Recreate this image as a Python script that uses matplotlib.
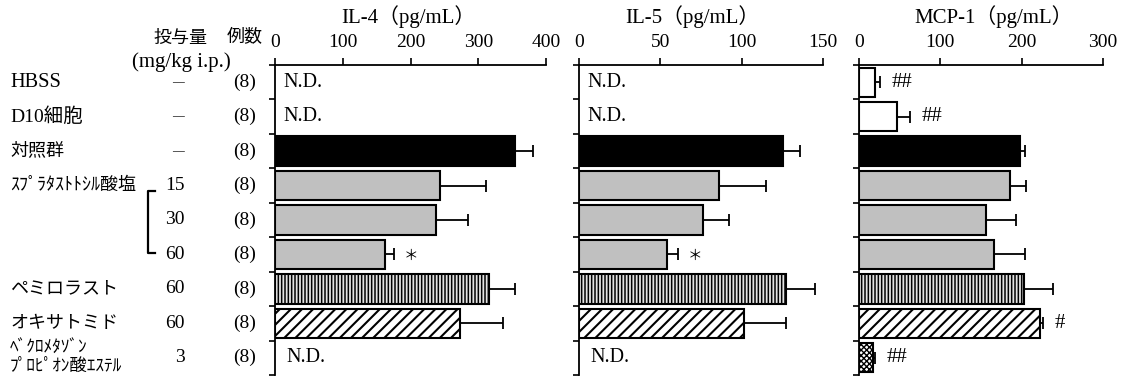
import numpy as np
import matplotlib
matplotlib.use("Agg")
import matplotlib.pyplot as plt
from matplotlib.transforms import blended_transform_factory

# ---- data -------------------------------------------------------------
groups = ["HBSS", "D10細胞", "対照群", "ｽﾌﾟﾗﾀｽﾄﾄｼﾙ酸塩", "", "",
          "ペミロラスト", "オキサトミド", "ﾍﾞｸﾛﾒﾀｿﾞﾝ\nﾌﾟﾛﾋﾟｵﾝ酸ｴｽﾃﾙ"]
doses = ["—", "—", "—", "15", "30", "60", "60", "60", "3"]
n_cases = ["(8)"] * 9

nan = np.nan
il4_mean = [nan, nan, 354, 243, 237, 163, 316, 273, nan]
il4_err = [nan, nan, 27, 69, 48, 13, 38, 64, nan]
il5_mean = [nan, nan, 125.4, 86, 76.3, 54.4, 127.5, 101.3, nan]
il5_err = [nan, nan, 10.3, 29, 16, 6.6, 17.5, 26.2, nan]
mcp1_mean = [19.3, 46.7, 197.6, 185.3, 156.6, 166.5, 202.9, 223, 17.2]
mcp1_err = [6.1, 16.3, 6.1, 20.5, 36, 38.1, 35.6, 3, 2.8]

il4_marks = {5: "＊"}
il5_marks = {5: "＊"}
mcp1_marks = {0: "##", 1: "##", 7: "#", 8: "##"}

# ---- styling ----------------------------------------------------------
plt.rcParams["font.family"] = ["Liberation Serif", "Noto Sans CJK JP"]

face = ["white", "white", "black", "#c0c0c0", "#c0c0c0", "#c0c0c0",
        "#e4e4e4", "white", "white"]
hatch = [None, None, None, None, None, None, "|||||", "///", "xxxxxx"]
hatch_lw = [1.0, 1.0, 1.0, 1.0, 1.0, 1.0, 1.1, 1.5, 1.0]
label_size = [14.7, 14, 13, 13, 13, 13, 13, 13, 12.5]

W, H = 1131, 378
fig = plt.figure(figsize=(W / 100, H / 100), dpi=100)


def fx(px):
    return px / W


def fy(py):
    return 1 - py / H


top_px, bot_px = 65, 375
rows = np.arange(len(groups))


def panel(left_px, width_px, xmax, xticks, title, title_x, mean, err, marks):
    ax = fig.add_axes([fx(left_px), fy(bot_px), width_px / W,
                       (bot_px - top_px) / H])
    mean = np.asarray(mean, float)
    err = np.asarray(err, float)
    ok = ~np.isnan(mean)
    for i in rows[ok]:
        with plt.rc_context({"hatch.linewidth": hatch_lw[i]}):
            b = ax.barh(i, mean[i], height=0.85, edgecolor="black",
                        facecolor=face[i], hatch=hatch[i],
                        linewidth=1.5, zorder=3)[0]
        if hasattr(b, "set_hatch_linewidth"):
            b.set_hatch_linewidth(hatch_lw[i])
    ax.errorbar(mean[ok], rows[ok], xerr=[np.zeros(ok.sum()), err[ok]],
                fmt="none", ecolor="black", elinewidth=1.3, capsize=4.3,
                capthick=1.3, zorder=2)
    for i in rows[~ok]:
        off = 8 if i < 8 else 11
        ax.annotate("N.D.", (0, i), xytext=(off * 0.72, 0),
                    textcoords="offset points", ha="left", va="center",
                    fontsize=14.5)
    for i, m in marks.items():
        star = m == "＊"
        ax.annotate(m, (mean[i] + err[i], i),
                    xytext=(6.5 if star else 8.5, -1.5 if star else 0),
                    textcoords="offset points", ha="left", va="center",
                    fontsize=10.5 if star else 15)
    ax.set_xlim(0, xmax)
    ax.set_ylim(len(groups) - 0.5, -0.5)
    ax.set_xticks(xticks)
    ax.set_xticklabels([str(t) for t in xticks])
    ax.xaxis.tick_top()
    ax.set_yticks(np.arange(-0.5, len(groups), 1.0))
    ax.set_yticklabels([])
    ax.tick_params(axis="x", direction="out", length=5, width=1.2,
                   labelsize=14, pad=5)
    ax.tick_params(axis="y", direction="out", length=4, width=1.2)
    for s in ("right", "bottom"):
        ax.spines[s].set_visible(False)
    for s in ("top", "left"):
        ax.spines[s].set_linewidth(1.3)
    fig.text(fx(title_x), fy(17), title, ha="center", va="center",
             fontsize=15)
    return ax


ax1 = panel(275, 271, 400, [0, 100, 200, 300, 400], "IL-4（pg/mL）", 408,
            il4_mean, il4_err, il4_marks)
panel(579, 244, 150, [0, 50, 100, 150], "IL-5（pg/mL）", 692,
      il5_mean, il5_err, il5_marks)
panel(859, 244, 300, [0, 100, 200, 300], "MCP-1（pg/mL）", 994,
      mcp1_mean, mcp1_err, mcp1_marks)

# ---- left-hand table of groups -----------------------------------------
tr = blended_transform_factory(fig.transFigure, ax1.transData)
for i in rows:
    if groups[i]:
        fig.text(fx(10), i, groups[i], transform=tr, ha="left", va="center",
                 fontsize=label_size[i], linespacing=1.2)
    dash = doses[i] == "—"
    fig.text(fx(184 if dash else 185), i, doses[i], transform=tr,
             ha="right", va="center", fontsize=8.5 if dash else 14)
    fig.text(fx(245), i, n_cases[i], transform=tr, ha="center", va="center",
             fontsize=14)

fig.text(fx(180), fy(38), "投与量", ha="center", va="center", fontsize=13)
fig.text(fx(245), fy(38), "例数", ha="center", va="center", fontsize=13)
fig.text(fx(181), fy(62), "(mg/kg i.p.)", ha="center", va="center",
         fontsize=15)

# bracket grouping the three suplatast doses
bx0, bx1 = fx(147.5), fx(155)
fig.add_artist(plt.Line2D([bx1, bx0, bx0, bx1], [3.15, 3.15, 4.95, 4.95],
                          transform=tr, color="black", linewidth=1.6))

fig.savefig("out.png", dpi=100)
